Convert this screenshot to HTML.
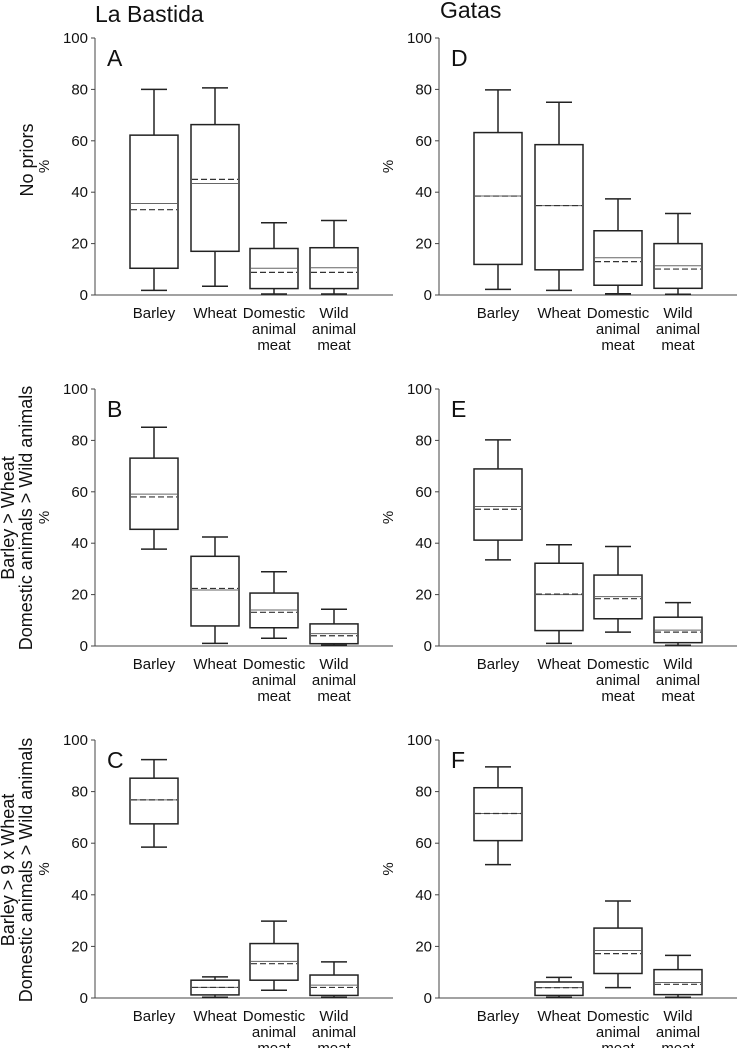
<!DOCTYPE html>
<html><head><meta charset="utf-8"><style>
body{margin:0;background:#fff}
svg{display:block;font-family:"Liberation Sans",Arial,sans-serif}
</style></head><body>
<svg id="chart" width="740" height="1048" viewBox="0 0 740 1048" xmlns="http://www.w3.org/2000/svg"></svg>
<script>
const categories = ["Barley","Wheat","Domestic animal meat","Wild animal meat"];
const panelLetters = ["A","B","C","D","E","F"];
const yTicks = [0,20,40,60,80,100];
// per panel: [whiskerLow, q1, median, mean, q3, whiskerHigh] for each category
const panelA = [[1.8,10.4,35.6,33.2,62.2,80],[3.4,17,43.4,45,66.3,80.6],[0.4,2.5,10.4,8.8,18.1,28.1],[0.4,2.5,10.6,8.8,18.4,29]];
const panelB = [[37.7,45.4,59.1,58,73.1,85.1],[1,7.8,21.8,22.4,34.9,42.4],[3,7.1,14,13.1,20.6,28.9],[0.3,0.9,4.8,4,8.6,14.3]];
const panelC = [[58.5,67.5,76.8,76.8,85.2,92.4],[0.3,1.2,4.1,4.1,6.9,8.2],[3,6.9,14.2,13.3,21.1,29.8],[0.3,1,5,4.1,8.9,14]];
const panelD = [[2.2,11.9,38.5,38.5,63.2,79.8],[1.8,9.8,34.8,34.8,58.5,75],[0.5,3.8,14.5,13,25,37.4],[0.3,2.6,11.4,10.1,20,31.7]];
const panelE = [[33.5,41.2,54.3,53.2,68.9,80.2],[1,6,20,20.2,32.2,39.4],[5.4,10.6,19.2,18.4,27.6,38.7],[0.3,1.3,6.2,5.4,11.2,16.9]];
const panelF = [[51.7,61,71.5,71.5,81.5,89.6],[0.3,1,4,4,6.2,8],[4,9.5,18.4,17.2,27.1,37.6],[0.3,1.3,6,5.3,11,16.5]];

const svg = document.getElementById('chart');
const NS = "http://www.w3.org/2000/svg";
function mk(tag, attrs, parent){const e=document.createElementNS(NS,tag);for(const k in attrs)e.setAttribute(k,attrs[k]);(parent||svg).appendChild(e);return e;}

const panels = [
 {d:panelA,ax:95,y0:295,y100:38},{d:panelB,ax:95,y0:646,y100:389},{d:panelC,ax:95,y0:998,y100:740},
 {d:panelD,ax:439,y0:295,y100:38},{d:panelE,ax:439,y0:646,y100:389},{d:panelF,ax:439,y0:998,y100:740}];
const catOffsets = [59,120,179,239];

panels.forEach((p,pi)=>{
  const g = mk('g',{});
  
  
  const y = v => p.y0 - (v/100)*(p.y0-p.y100);
  const yl = mk('line',{x1:p.ax,y1:p.y100,x2:p.ax,y2:p.y0,stroke:'#444','stroke-width':1},g);
  
  
  const xl = mk('line',{x1:p.ax,y1:p.y0,x2:p.ax+298,y2:p.y0,stroke:'#444','stroke-width':1},g);
  
  
  yTicks.forEach(t=>{
    mk('line',{x1:p.ax-4,y1:y(t),x2:p.ax,y2:y(t),stroke:'#444','stroke-width':1},g);
    const tx = mk('text',{x:p.ax-7,y:y(t)+5,'text-anchor':'end','font-size':15,fill:'#111'},g);
    tx.textContent=t;
    
    
  });
  const L = mk('text',{x:p.ax+12,y:p.y100+28,'font-size':23,fill:'#111'},g);
  L.textContent=panelLetters[pi];
  
  
  categories.forEach((c,ci)=>{
    const cx = p.ax+catOffsets[ci];
    const s = p.d[ci];
    const bw=48, cw=26;
    const bg = mk('g',{},g);
    
    
    mk('line',{x1:cx,y1:y(s[5]),x2:cx,y2:y(s[4]),stroke:'#222','stroke-width':1.5},bg);
    mk('line',{x1:cx,y1:y(s[1]),x2:cx,y2:y(s[0]),stroke:'#222','stroke-width':1.5},bg);
    mk('line',{x1:cx-cw/2,y1:y(s[5]),x2:cx+cw/2,y2:y(s[5]),stroke:'#222','stroke-width':1.5},bg);
    mk('line',{x1:cx-cw/2,y1:y(s[0]),x2:cx+cw/2,y2:y(s[0]),stroke:'#222','stroke-width':1.5},bg);
    mk('rect',{x:cx-bw/2,y:y(s[4]),width:bw,height:y(s[1])-y(s[4]),fill:'#fff',stroke:'#222','stroke-width':1.5},bg);
    mk('line',{x1:cx-bw/2+1,y1:y(s[2]),x2:cx+bw/2-1,y2:y(s[2]),stroke:'#666','stroke-width':1},bg);
    mk('line',{x1:cx-bw/2+1,y1:y(s[3]),x2:cx+bw/2-1,y2:y(s[3]),stroke:'#333','stroke-width':1.2,'stroke-dasharray':'6 3'},bg);
    const words = ci<2?[c]:c.split(' ');
    words.forEach((w,wi)=>{
      const t = mk('text',{x:cx,y:p.y0+23+wi*16,'text-anchor':'middle','font-size':15,fill:'#111'},g);
      t.textContent=w;
      
      
    });
  });
  const mid=(p.y0+p.y100)/2;
  const pc = mk('text',{x:p.ax-46,y:mid,'text-anchor':'middle','font-size':15,fill:'#111',transform:`rotate(-90 ${p.ax-46} ${mid})`},g);
  pc.textContent='%';
  
  
});

function rowTitle(lines, mid){
  lines.forEach((s,i)=>{
    const x = lines.length===1?33:(i===0?14:32);
    const t = mk('text',{x:x,y:mid,'text-anchor':'middle','font-size':18,fill:'#111',transform:`rotate(-90 ${x} ${mid})`});
    t.textContent=s;
    
    
  });
}
rowTitle(["No priors"],160);
rowTitle(["Barley > Wheat","Domestic animals > Wild animals"],518);
rowTitle(["Barley > 9 x Wheat","Domestic animals > Wild animals"],870);

const t1 = mk('text',{x:95,y:22,'font-size':23,fill:'#111'});
t1.textContent='La Bastida';


const t2 = mk('text',{x:440,y:18,'font-size':23,fill:'#111'});
t2.textContent='Gatas';


</script>
</body></html>
